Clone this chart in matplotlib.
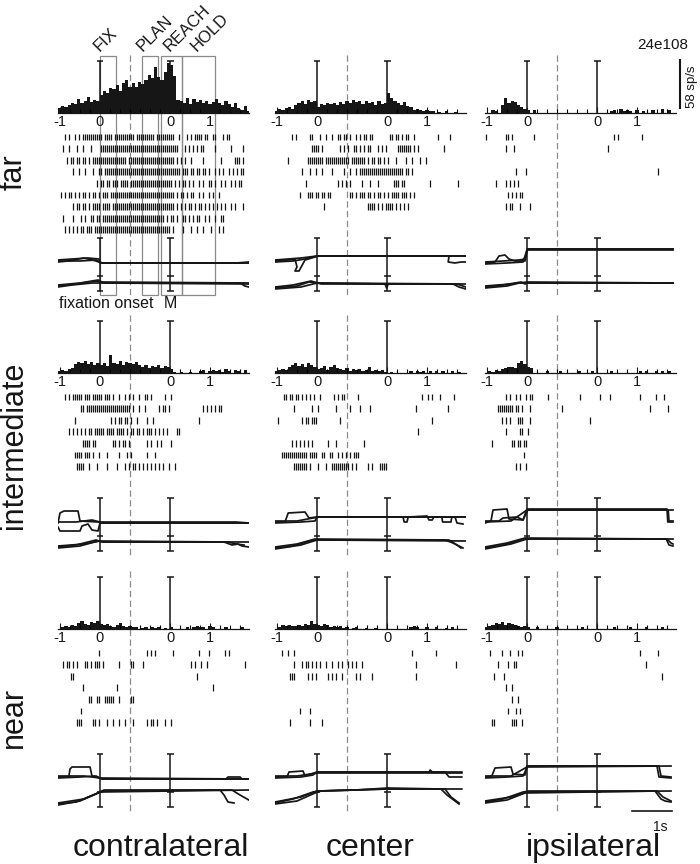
import numpy as np
import matplotlib
matplotlib.use("Agg")
import matplotlib.pyplot as plt
from matplotlib.patches import Rectangle

plt.rcParams['font.family'] = ['Liberation Sans', 'DejaVu Sans']
plt.rcParams['lines.scale_dashes'] = False

# ---------------------------------------------------------------- data
row_names = ["far", "intermediate", "near"]
col_names = ["contralateral", "center", "ipsilateral"]
cell_id = "24e108"
rate_scale_sps = 58          # sp/s scale bar
time_scale_s = 1             # 1 s scale bar

# time axis: fixation-aligned epoch, then movement(M)-aligned epoch
M_OFFSET = 1.76              # where M = 0 sits on the concatenated axis
SPLIT = 0.76                 # dashed divider between the two epochs
XMIN, XMAX = -1.05, 3.72
tick_pos = [-1, 0, M_OFFSET + 0, M_OFFSET + 1]
tick_labels = ["-1", "0", "0", "1"]

# epochs drawn on the first panel (start, end) on the concatenated axis
epoch_names = ["FIX", "PLAN", "REACH", "HOLD"]
epoch_start = [0.0, M_OFFSET - 0.70, M_OFFSET - 0.24, M_OFFSET + 0.29]
epoch_end = [0.40, M_OFFSET - 0.30, M_OFFSET + 0.29, M_OFFSET + 1.11]
epoch_label_t = [0.0, 1.07, 1.74, 2.42]

# PSTH (sp/s), bins of 0.08 s starting at -1.05
BIN = 0.08
psth_far_contra = [6, 8, 7, 10, 12, 11, 17, 12, 14, 19, 13, 16,
                   14, 22, 26, 24, 30, 29, 34, 26, 36, 40, 31,
                   36, 32, 38, 35, 40, 46, 42, 56, 44, 40, 50, 60, 58, 45, 16,
                   14, 12, 18, 11, 17, 13, 16, 12, 14, 11, 13, 17, 12, 10, 14, 11, 7, 12, 6, 4, 8, 3]
psth_far_center = [2, 5, 4, 6, 7, 5, 10, 12, 14, 11, 16, 13, 14, 7, 11, 10, 12, 11,
                   12, 10, 13, 11, 14, 12, 16, 13, 14, 11, 14, 12, 13, 10, 14, 11, 12,
                   24, 18, 14, 12, 10, 13, 8, 7, 4, 5, 4, 2, 4, 2, 2,
                   0, 1, 0, 2, 0, 0, 1, 0, 0, 0]
psth_far_ipsi = [0, 0, 4, 2, 0, 10, 18, 12, 14, 13, 10, 7, 5, 4, 0, 4,
                 0, 0, 0, 0, 0, 0, 0, 0, 0, 0, 0, 0, 0, 0, 0, 0, 0, 0, 0, 0, 0, 0,
                 0, 2, 4, 0, 5, 2, 4, 2, 0, 4, 0, 2, 0, 0, 4, 0, 0, 5, 0, 4, 0, 0]
psth_int_contra = [2, 4, 2, 5, 6, 11, 13, 12, 14, 11, 13, 10, 12, 10, 12, 8, 22,
                   12, 11, 14, 10, 13, 12, 11, 13, 10, 7, 10, 6, 8, 7, 10, 6, 8, 7, 5,
                   1, 0, 1, 0, 0, 1, 0, 0,
                   2, 4, 0, 2, 4, 2, 4, 1, 5, 2, 0, 4, 2, 0, 4, 0]
psth_int_center = [2, 4, 5, 4, 7, 10, 12, 8, 11, 7, 12, 10, 7, 5, 6, 8, 4, 7, 10, 6,
                   5, 4, 6, 2, 5, 4, 5, 2, 4, 7, 2, 4, 2, 4, 1, 0, 1, 0, 0, 0, 0, 0,
                   2, 0, 2, 1, 2, 0, 2, 0, 2, 0, 2, 0, 0, 2, 0, 1, 0, 0]
psth_int_ipsi = [0, 2, 1, 4, 2, 5, 6, 7, 7, 6, 12, 14, 11, 7, 6,
                 0, 0, 0, 0, 2, 0, 0, 0, 2, 0, 0, 0, 0, 0, 2, 0, 0, 0, 2, 0,
                 0, 0, 0, 0, 2, 0, 0, 0, 0, 0, 0, 0, 0, 2, 0, 2, 0, 0, 2, 0,
                 2, 0, 2, 0, 0]
psth_near_contra = [0, 2, 4, 2, 5, 4, 7, 10, 6, 5, 8, 7, 10, 6, 5, 6, 4, 2, 5, 7, 4, 2, 4, 2,
                    2, 0, 1, 2, 0, 2, 1, 2, 0, 1, 0, 2,
                    0, 0, 0, 0, 2, 0, 2, 4, 2, 2, 0, 4, 2, 0, 0, 0, 2, 0, 0, 0, 0, 2, 0, 0]
psth_near_center = [0, 2, 5, 4, 5, 4, 4, 5, 4, 6, 5, 10, 6, 5, 4, 6, 5, 2, 4, 2, 4,
                    1, 2, 0, 1, 2, 0, 0, 1, 0, 0, 1,
                    0, 0, 0, 0, 0, 0, 0, 0, 0, 0, 2, 4, 2, 0, 0, 2, 0, 0, 2, 0,
                    0, 1, 0, 2, 0, 0, 0, 0]
psth_near_ipsi = [2, 4, 5, 7, 6, 8, 5, 7, 6, 5, 4, 2, 4, 2,
                  0, 0, 2, 0, 0, 0, 0, 0, 2, 0, 0, 0, 0, 0, 0, 0, 2, 0, 0, 0,
                  0, 0, 0, 0, 0, 0, 2, 0, 0, 0, 0, 2, 0, 0, 0, 0, 2, 0, 0, 0,
                  0, 2, 0, 0, 0, 0]

# rasters: one string per trial, one character per 0.05 s from -1.05,
# '|' = spike, '.' = none (spaces only group the characters by ten)
RASTER_DT = 0.05
raster_far_contra = [
    "...|.|..|. |.|||||||| ||.||||.|| ||||||||.| ||||||||.| ||||||||.. |...|.|.|| ||.||..||. ..|.||....",
    "..|..|...| ..|...|... .||||||||| |||||||||| |||||||||| |||||||||| ...|.|.|.| .||.....|. ......|... ..|",
    "....|.||.| |.||.|.||| |||||||||| ||||.||||| |||||||||| ||||||||.| .|.|..|... ..|....... .|......|| |.|",
    ".......|.. |..|...|.. ||.||||||| |||||||||| |||||||||| |||||||||| |.|||.||.| |.||.|..|. |.|..|.|.| .||",
    ".......... .........| .||.||.||| .||||.|||| |||||||||| |||||||.|. |.||.|.|.. |.|..||.|. .|.|..|.|. ||.",
    ".|.|.||.|. |.||.|.||. |.|||.|||| |||||||||| |||||||||| ||||||||.| .||.|.||.. |.|..|.|.. |.........",
    ".......|.| |.||.|.||| |.||||.||| |||||||||| |||||||||| ||||||||.| .|.|.||.|. ||.|.|.|.| .|.|..|.|. ..|",
    "..|....|.. .|.|..||.| |.|||||||| |||||||||| |||||||||| |||.|.||.| ..||.|.|.| |..|.|..|. .||.......",
    "...|.|.|.| .||.|||.|| |||||||||| |||||||||| |||||||||| ||||||.|.. ..|...|..| ..|...|... |.|.......",
]
raster_far_center = [
    "........|. |......||. ..|..|..|. .||.||.|.. |.|.||.||. .......||. ||.|.||..| .......... .|.....|..",
    ".......... ........|| ||.|...... ..|.|.|..| |.|.|.||.. .|.|.|.... .|||||||.| .|........ ....|.....",
    "......|... ......|||| ||||.||||| |||||||.|| |||||.|.|| .||.|.|... |....|..|. ..|..|....",
    ".......... ...|...|.. |..|....|. ....|..|.. |.|||||||| |||||||||| ||||.||.|.",
    ".......... .....|.... .......... .|.|.|.|.. ...|...|.. .|.......| ||.||..... .......|.. .......... .|",
    ".......... ..|...|||. ||.||.||.. .......||. |.|||.||.| .||.|.|.|| ||.|||.|.|",
    ".......... .......... ....|..... .......... ......|||| .|.|.||||. |.|.|.|...",
]
raster_far_ipsi = [
    "|......... ||.|...... ....|..... .......... .......... .......... ....|.|... ........|.",
    ".......... |...|..... .......... .......... .......... .......... .|........",
    "",
    ".......... .....|.... |......... .......... .......... .......... .......... .......... ......|...",
    ".....|.... |.|.|.|...",
    ".......... .|.|.|.||.",
    ".......... |.||...|.. ..|.......",
]
raster_int_contra = [
    "...|.|.||| ||.|||.||| ||.|||.|.. |..|.|.|.. |..||.|... ...|..|...",
    ".......... .||.|||||| |||||||||| ||||||.|.. |..|...... |.||.|.... .......... ..|.|.|.|. ||",
    "........|. .......... ......|.|. ||.||.|..| ....|..|.. .......... .......... |.........",
    ".....|.|.| .|.|.||.|| |||.||||.| |||.|.||.| |.|.|||.|. |.|.|....| |.........",
    ".......... ..||||.||. .......||. |.||.|.... ....|.|..| .|....|...",
    "........|| ||.|||.|.. |...|..... |...|.|... ....|...|.",
    ".........| |||..|...| ....|....| ...|.|.||. |.|.|.|.|. |.|..|..|.",
]
raster_int_center = [
    "....||.||. ||.|.|.|.| ..|......| .|.||..... .|........ .......... .......... ...|..|.|. ..|......|",
    ".........| ........|. .|........ |......|.. ..|....|.. .......... .......... |......... ......|...",
    ".|........ ...|.||.|| |......... ..|....... .......... .......... .......... ........|.",
    ".......... .......... .......... .......... .......... .......... .......... .|........",
    "........|. |.|.|.|.|. ......|... |......... ....|.....",
    "...||||||| ||||||.||| |..||..||. .|.|.|.|.| ||........",
    ".........| ||||||.|.. .|...|..|| |||||||.|. |.....|.|. ..||||....",
]
raster_int_ipsi = [
    ".......... |.|..|.|.. |.||...... .|........ .......|.. .......|.. ..|....... .......|.. .....|...|",
    "......|||| ||||.||.|. ..|....... ........|. .......... .......... .......... .......... ..|....... .|",
    "........|. |.|...|||. ..|....... .......... .......... ..|.......",
    ".......... |......||. .|........",
    "...|...... ...||.||.| |.........",
    ".......... .........|",
    ".......... .....|.|.. |.........",
]
raster_near_contra = [
    ".......... .......... |......... .......... ....|.|.|. .......|.. .......... |....|.... ...|.|....",
    "..|.||.|.| ...||.|.|| |.|....... |.....||.. ..|....... .......... ......|.|. .|..|..... .......... ...|",
    "......||.. .......... .......... .......... .......... .......... .........|",
    ".......... ..|....... .........| .......... .......... .......... .......... .......|..",
    ".......... .....||..| |..|||||.. |.....||..",
    ".......... .|........",
    ".........| ||.....||. |...|..|.. |..|...|.. ....|.||.| ...|..|...",
]
raster_near_center = [
    "...|..|..| .......... .......... .......... .......... .......... ........|. .......... |.........",
    ".........| ...|.||.|. |.|..|..|. .|.|..|.|. |..|...... .......... .......... |......... .......... |",
    ".......||| ......|.|. |.....|.|. |..|...... |.|.....|. .......... .......... |.........",
    "",
    "",
    ".......... ..|....|..",
    ".......|.. .......|.. ...|......",
]
raster_near_ipsi = [
    "..|.....|. ..|...|.|. .......... .......... .......... .......... .......... .......|.. ......|...",
    "......|... .|..||.... .......... .......... .......... .......... .......... .......... |.........",
    "....|....| .......... .......... .......... .......... .......... .......... .......... ........|.",
    ".......... |..|......",
    ".......... ...|..|...",
    ".......... .|...|.|..",
    "...||..... ...|||..|.",
]

# behavioural traces: (time on concatenated axis, position in arbitrary units)
# "top" = upper trace group, "bottom" = lower trace group, three trials each
traces_far_contra_top = [
    [(-1.05, 31), (-0.7, 32), (-0.3, 33), (-0.03, 32), (0.02, 28), (3.72, 28)],
    [(-1.05, 30), (-0.5, 30), (-0.1, 31), (0.0, 29), (0.05, 28), (3.4, 28), (3.72, 29)],
    [(-1.05, 29), (-0.8, 30), (-0.4, 33), (-0.1, 30), (0.03, 28), (3.72, 28)]]
traces_far_contra_bottom = [
    [(-1.05, 5), (-0.6, 7), (-0.1, 10), (0.05, 9), (3.72, 8)],
    [(-1.05, 6), (-0.5, 8), (-0.05, 11), (0.1, 8), (3.5, 8), (3.62, 5), (3.72, 4)],
    [(-1.05, 4), (-0.7, 6), (-0.2, 8), (0.05, 8), (3.72, 7)]]
traces_far_center_top = [
    [(-1.05, 30), (-0.7, 31), (-0.55, 32), (-0.5, 24), (-0.55, 20), (-0.45, 20), (-0.3, 31),
     (-0.05, 34), (0.05, 35), (3.72, 35)],
    [(-1.05, 29), (-0.6, 30), (-0.3, 32), (-0.1, 34), (0.0, 35), (3.3, 35), (3.28, 29),
     (3.45, 28), (3.6, 29), (3.72, 29)],
    [(-1.05, 31), (-0.4, 33), (0.0, 35), (3.72, 35)]]
traces_far_center_bottom = [
    [(-1.05, 3), (-0.5, 5), (-0.2, 9), (0.05, 8), (1.7, 7), (1.74, 3), (1.78, 7), (3.4, 7),
     (3.55, 4), (3.72, 2)],
    [(-1.05, 4), (-0.6, 6), (-0.15, 10), (0.1, 7), (3.5, 7), (3.72, 4)],
    [(-1.05, 2), (-0.4, 4), (0.0, 8), (3.72, 7)]]
traces_far_ipsi_top = [
    [(-1.05, 28), (-0.8, 29), (-0.7, 35), (-0.55, 36), (-0.45, 32), (-0.3, 30), (-0.05, 30),
     (0.0, 42), (3.65, 42)],
    [(-1.05, 29), (-0.6, 30), (-0.2, 31), (-0.05, 32), (0.02, 42), (3.65, 42)],
    [(-1.05, 27), (-0.5, 28), (-0.1, 29), (0.0, 41), (3.65, 41)]]
traces_far_ipsi_bottom = [
    [(-1.05, 4), (-0.6, 6), (-0.15, 9), (-0.05, 7), (0.0, 8), (3.65, 8)],
    [(-1.05, 3), (-0.5, 5), (-0.2, 8), (0.05, 8), (3.65, 8)],
    [(-1.05, 5), (-0.4, 7), (0.0, 9), (3.65, 8)]]
traces_int_contra_top = [
    [(-1.05, 28), (-1.0, 38), (-0.9, 40), (-0.55, 40), (-0.5, 30), (-0.05, 29), (0.05, 28), (3.72, 28)],
    [(-1.05, 24), (-1.0, 20), (-0.5, 20), (-0.45, 25), (-0.3, 27), (-0.2, 21), (-0.05, 20),
     (0.0, 28), (3.72, 28)],
    [(-1.05, 29), (-0.6, 29), (-0.2, 31), (0.0, 29), (3.4, 29), (3.72, 28)]]
traces_int_contra_bottom = [
    [(-1.05, 4), (-0.6, 6), (-0.1, 11), (0.05, 9), (3.72, 9)],
    [(-1.05, 3), (-0.5, 5), (-0.05, 10), (0.1, 9), (3.1, 9), (3.3, 6), (3.45, 7), (3.55, 5), (3.72, 4)],
    [(-1.05, 5), (-0.4, 7), (0.0, 10), (3.2, 9), (3.4, 7), (3.6, 6)]]
traces_int_center_top = [
    [(-1.05, 29), (-0.8, 29), (-0.72, 38), (-0.3, 39), (-0.2, 33), (0.0, 34), (3.72, 34)],
    [(-1.05, 28), (-0.4, 29), (-0.05, 30), (0.0, 34), (2.15, 34), (2.18, 29), (2.25, 29),
     (2.28, 34), (2.75, 35), (2.8, 31), (2.88, 31), (2.92, 34), (3.12, 34), (3.14, 29),
     (3.35, 29), (3.37, 34), (3.45, 34), (3.5, 28), (3.65, 27)],
    [(-1.05, 30), (-0.5, 30), (-0.1, 33), (0.05, 34), (3.72, 34)]]
traces_int_center_bottom = [
    [(-1.05, 3), (-0.6, 5), (-0.1, 11), (3.2, 11), (3.4, 8), (3.65, 3)],
    [(-1.05, 4), (-0.5, 7), (-0.05, 12), (3.3, 11), (3.5, 6), (3.6, 3)],
    [(-1.05, 2), (-0.4, 6), (0.0, 11), (3.72, 10)]]
traces_int_ipsi_top = [
    [(-1.05, 28), (-0.9, 30), (-0.85, 41), (-0.5, 42), (-0.45, 32), (-0.1, 31), (0.0, 42),
     (3.5, 42), (3.52, 29), (3.65, 29)],
    [(-1.05, 30), (-0.7, 30), (-0.6, 33), (-0.25, 34), (-0.1, 31), (0.02, 41), (3.53, 41),
     (3.55, 30), (3.65, 30)],
    [(-1.05, 29), (-0.4, 30), (0.0, 41), (3.65, 41)]]
traces_int_ipsi_bottom = [
    [(-1.05, 3), (-0.6, 6), (-0.1, 12), (0.05, 12), (3.48, 12), (3.55, 6), (3.65, 5)],
    [(-1.05, 4), (-0.5, 8), (-0.05, 13), (3.5, 12), (3.6, 8), (3.65, 7)],
    [(-1.05, 2), (-0.4, 7), (0.0, 12), (3.65, 12)]]
traces_near_contra_top = [
    [(-1.05, 30), (-0.78, 30), (-0.75, 38), (-0.7, 40), (-0.25, 40), (-0.2, 31), (0.0, 29),
     (0.05, 28), (3.72, 28)],
    [(-1.05, 29), (-0.5, 30), (-0.1, 31), (0.05, 28), (3.15, 28), (3.2, 30), (3.5, 30),
     (3.55, 28), (3.72, 28)],
    [(-1.05, 31), (-0.4, 31), (0.0, 29), (3.72, 28)]]
traces_near_contra_bottom = [
    [(-1.05, 2), (-0.5, 6), (-0.1, 13), (0.05, 16), (3.0, 17), (3.1, 12), (3.2, 5), (3.35, 4)],
    [(-1.05, 3), (-0.6, 5), (-0.05, 14), (0.1, 17), (3.3, 17), (3.5, 12), (3.72, 7)],
    [(-1.05, 4), (-0.4, 8), (0.0, 15), (3.72, 17)]]
traces_near_center_top = [
    [(-1.05, 30), (-0.75, 30), (-0.7, 35), (-0.35, 36), (-0.3, 31), (0.0, 35), (3.2, 35),
     (3.3, 30), (3.62, 30)],
    [(-1.05, 29), (-0.4, 30), (-0.1, 32), (0.0, 35), (2.8, 35), (2.83, 37), (2.88, 35), (3.62, 35)],
    [(-1.05, 31), (-0.5, 31), (0.0, 34), (3.62, 34)]]
traces_near_center_bottom = [
    [(-1.05, 4), (-0.6, 8), (-0.1, 15), (0.05, 16), (1.0, 17), (1.76, 19), (3.1, 18),
     (3.25, 12), (3.45, 6), (3.55, 3)],
    [(-1.05, 3), (-0.5, 6), (-0.05, 14), (0.1, 16), (1.76, 18), (3.2, 18), (3.35, 10), (3.55, 4)],
    [(-1.05, 5), (-0.4, 10), (0.0, 16), (1.76, 18), (3.62, 18)]]
traces_near_ipsi_top = [
    [(-1.05, 30), (-0.88, 31), (-0.8, 39), (-0.4, 40), (-0.35, 33), (-0.05, 32), (0.0, 41),
     (3.25, 41), (3.3, 30), (3.6, 29)],
    [(-1.05, 29), (-0.5, 30), (-0.1, 31), (0.02, 41), (3.3, 41), (3.35, 31), (3.6, 30)],
    [(-1.05, 31), (-0.4, 31), (0.0, 40), (3.6, 41)]]
traces_near_ipsi_bottom = [
    [(-1.05, 5), (-0.6, 8), (-0.1, 15), (0.05, 16), (3.2, 16), (3.35, 8), (3.45, 6), (3.6, 5)],
    [(-1.05, 4), (-0.5, 7), (-0.05, 14), (3.25, 16), (3.4, 10), (3.6, 6)],
    [(-1.05, 6), (-0.4, 10), (0.0, 15), (3.6, 16)]]

psth = [[psth_far_contra, psth_far_center, psth_far_ipsi],
        [psth_int_contra, psth_int_center, psth_int_ipsi],
        [psth_near_contra, psth_near_center, psth_near_ipsi]]
rasters = [[raster_far_contra, raster_far_center, raster_far_ipsi],
           [raster_int_contra, raster_int_center, raster_int_ipsi],
           [raster_near_contra, raster_near_center, raster_near_ipsi]]
traces = [[(traces_far_contra_top, traces_far_contra_bottom),
           (traces_far_center_top, traces_far_center_bottom),
           (traces_far_ipsi_top, traces_far_ipsi_bottom)],
          [(traces_int_contra_top, traces_int_contra_bottom),
           (traces_int_center_top, traces_int_center_bottom),
           (traces_int_ipsi_top, traces_int_ipsi_bottom)],
          [(traces_near_contra_top, traces_near_contra_bottom),
           (traces_near_center_top, traces_near_center_bottom),
           (traces_near_ipsi_top, traces_near_ipsi_bottom)]]

# ---------------------------------------------------------------- layout
W, H = 700, 864
PX_PER_S = 40.0
AX_W = (XMAX - XMIN) * PX_PER_S
ROW_TOP = [61, 321, 577]
COL_LEFT = [58, 275, 485]
PSTH_H = 52
PSTH_TOP_RATE = rate_scale_sps * PSTH_H / 48.0   # 58 sp/s spans 48 px
RASTER_PITCH = 11.6
TRACE_H = 53
INK = "#161616"
GRAY = "#8a8a8a"
CAP = 0.085

fig = plt.figure(figsize=(W / 100, H / 100), dpi=100)


def add_ax(left, top, width, height):
    ax = fig.add_axes([left / W, 1 - (top + height) / H, width / W, height / H])
    ax.patch.set_visible(False)
    return ax


def spikes_from_pattern(p):
    s = p.replace(" ", "")
    return [XMIN + RASTER_DT * (k + 0.5) for k, ch in enumerate(s) if ch == "|"]


def cap_bar(ax, x, y0, y1, caps):
    ax.vlines(x, y0, y1, color=INK, lw=1.1, clip_on=False)
    for y in caps:
        ax.hlines(y, x - CAP, x + CAP, color=INK, lw=1.1, clip_on=False)


event_x = [0.0, M_OFFSET]
minor_pos = [v for v in np.arange(-1.0, XMAX, 0.25)
             if all(abs(v - t) > 0.05 for t in tick_pos)]

for r in range(3):
    for c in range(3):
        top = ROW_TOP[r]
        left = COL_LEFT[c]

        # overlay spanning the whole panel (dashed divider, epoch boxes)
        ov = add_ax(left, top - 6, AX_W, 242)
        ov.set_xlim(XMIN, XMAX)
        ov.set_ylim(242, 0)
        ov.axis("off")
        ov.plot([SPLIT, SPLIT], [0, 241], color=GRAY, lw=0.9, ls=(0, (4.5, 2.5)))

        # PSTH
        ph = add_ax(left, top, AX_W, PSTH_H)
        rates = psth[r][c]
        centers = XMIN + BIN * (np.arange(len(rates)) + 0.5)
        ph.bar(centers, rates, width=BIN, color=INK, linewidth=0)
        ph.set_xlim(XMIN, XMAX)
        ph.set_ylim(0, PSTH_TOP_RATE)
        for s in ("top", "left", "right"):
            ph.spines[s].set_visible(False)
        ph.spines["bottom"].set_linewidth(0.9)
        ph.spines["bottom"].set_color(INK)
        ph.set_yticks([])
        ph.set_xticks(tick_pos)
        ph.set_xticklabels(tick_labels, fontsize=10.5)
        ph.set_xticks(minor_pos, minor=True)
        ph.tick_params(axis="x", which="major", direction="in", length=4, width=0.8,
                       pad=1.5, colors=INK)
        ph.tick_params(axis="x", which="minor", direction="in", length=3, width=0.8)
        for x in event_x:
            cap_bar(ph, x, 0, PSTH_TOP_RATE, [PSTH_TOP_RATE])

        # raster
        ra = add_ax(left, top + 64, AX_W, 110)
        ra.set_xlim(XMIN, XMAX)
        ra.set_ylim((110 - 12) / RASTER_PITCH, -12 / RASTER_PITCH)
        ra.axis("off")
        for i, pat in enumerate(rasters[r][c]):
            sp = spikes_from_pattern(pat)
            if sp:
                ra.vlines(sp, i - 0.3, i + 0.3, color=INK, lw=0.9)

        # behavioural traces
        tr = add_ax(left, top + 177, AX_W, TRACE_H)
        tr.set_xlim(XMIN, XMAX)
        tr.set_ylim(0, TRACE_H)
        tr.axis("off")
        for group in traces[r][c]:
            for trial in group:
                ts, ys = zip(*trial)
                tr.plot(ts, ys, color=INK, lw=1.25, solid_joinstyle="round")
        for x in event_x:
            cap_bar(tr, x, 0, TRACE_H, [0, 15, TRACE_H])

        if r == 0 and c == 0:
            for name, a, b, lt in zip(epoch_names, epoch_start, epoch_end, epoch_label_t):
                ov.add_patch(Rectangle((a, 1), b - a, 239, fill=False,
                                       edgecolor=GRAY, lw=0.9))
                ov.text(lt, -3, name, rotation=45, rotation_mode="anchor",
                        ha="left", va="baseline", fontsize=12, color=INK)
            tr.text(XMIN + 0.03, -12, "fixation onset", ha="left", va="center",
                    fontsize=11.5, color=INK, clip_on=False)
            tr.text(M_OFFSET, -12, "M", ha="center", va="center",
                    fontsize=11.5, color=INK, clip_on=False)

        if r == 0 and c == 2:
            xb = XMIN + (680 - COL_LEFT[2]) / PX_PER_S
            ph.plot([xb, xb], [6, 6 + rate_scale_sps], color=INK, lw=1.5, clip_on=False)
        if r == 2 and c == 2:
            x1 = 3.63
            tr.plot([x1 - time_scale_s, x1], [-4, -4], color=INK, lw=1.2, clip_on=False)

# text labels
fig.text(663 / W, 1 - 45 / H, cell_id, ha="center", va="center", fontsize=11, color=INK)
fig.text(692 / W, 1 - 87 / H, "%d sp/s" % rate_scale_sps, ha="center", va="center",
         rotation=90, fontsize=9.5, color=INK)
fig.text(660 / W, 1 - 827 / H, "%ds" % time_scale_s, ha="center", va="center",
         fontsize=10, color=INK)
for name, x in zip(col_names, [161, 370, 593]):
    fig.text(x / W, 1 - 856 / H, name, ha="center", va="baseline", fontsize=23, color=INK)
for name, y in zip(row_names, [172, 445, 717]):
    fig.text(14 / W, 1 - y / H, name, ha="center", va="center", rotation=90,
             fontsize=22, color=INK)

fig.savefig("out.png", dpi=100)
